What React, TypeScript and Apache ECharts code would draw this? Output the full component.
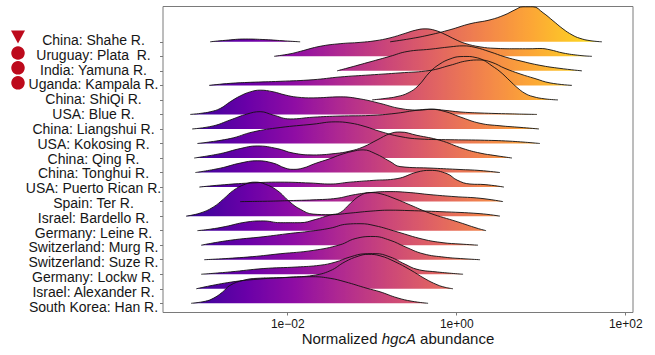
import React, { useEffect, useRef } from 'react';
import * as echarts from 'echarts';

// Rivers, top to bottom
const rivers = [
  'China: Shahe R.', 'Uruguay: Plata  R.', 'India: Yamuna R.', 'Uganda: Kampala R.',
  'China: ShiQi R.', 'USA: Blue R.', 'China: Liangshui R.', 'USA: Kokosing R.',
  'China: Qing R.', 'China: Tonghui R.', 'USA: Puerto Rican R.', 'Spain: Ter R.',
  'Israel: Bardello R.', 'Germany: Leine R.', 'Switzerland: Murg R.', 'Switzerland: Suze R.',
  'Germany: Lockw R.', 'Israel: Alexander R.', 'South Korea: Han R.',
];

// Marker shapes shown left of the first rivers
const markerShapes = ['triangle', 'circle', 'circle', 'circle'];

// x tick positions (log10 of abundance) and their labels
const xTicks = [-2, 0, 2];
const xTickLabels = ['1e\u221202', '1e+00', '1e+02'];

// Density ridges: [log10(normalized hgcA abundance), scaled density]; null = gap
const shahe = [[-2.918,0],[-2.740,0.10],[-2.503,0.19],[-2.267,0.15],[-2.031,0.06],[-1.853,0], null,
  [-0.789,0],[-0.552,0.21],[-0.316,0.48],[-0.079,0.83],[0.157,1.24],[0.394,1.51],[0.571,1.86],[0.689,2.20],[0.784,2.41],[0.902,2.41],[1.021,2.00],[1.139,1.45],[1.257,0.89],[1.364,0.48],[1.458,0.24],[1.577,0.08],[1.718,0]];
const uruguay = [[-2.161,0],[-1.972,0.17],[-1.853,0.34],[-1.617,0.69],[-1.380,0.87],[-1.144,0.96],[-0.966,1.07],[-0.789,1.27],[-0.611,1.58],[-0.493,1.79],[-0.375,1.89],[-0.257,1.79],[-0.138,1.51],[-0.020,1.17],[0.098,0.89],[0.276,0.65],[0.453,0.55],[0.689,0.52],[0.867,0.52],[0.985,0.54],[1.104,0.45],[1.257,0.23],[1.458,0.06],[1.600,0]];
const india = [[-1.416,0],[-1.262,0.24],[-1.025,0.62],[-0.789,1.00],[-0.588,1.33],[-0.316,1.49],[-0.079,1.65],[0.075,1.72],[0.216,1.62],[0.394,1.31],[0.571,0.96],[0.749,0.69],[0.985,0.38],[1.222,0.17],[1.482,0]];
const uganda = [[-2.930,0],[-2.681,0.14],[-2.445,0.21],[-2.090,0.28],[-1.700,0.39],[-1.380,0.58],[-1.025,0.72],[-0.671,0.86],[-0.316,1.03],[-0.079,1.38],[0.122,1.69],[0.276,1.75],[0.418,1.58],[0.571,1.17],[0.749,0.79],[0.926,0.47],[1.104,0.17],[1.364,0]];
const shiqi = [[-1.002,0],[-0.848,0.10],[-0.706,0.23],[-0.576,0.48],[-0.458,0.96],[-0.316,1.93],[-0.198,2.48],[-0.079,2.82],[0.039,2.98],[0.122,2.99],[0.216,2.93],[0.311,2.75],[0.418,2.34],[0.512,1.95],[0.630,1.31],[0.713,0.86],[0.808,0.45],[0.902,0.23],[1.044,0.07],[1.198,0]];
const blue = [[-3.154,0],[-3.036,0.07],[-2.918,0.18],[-2.799,0.41],[-2.681,0.87],[-2.563,1.27],[-2.445,1.55],[-2.326,1.67],[-2.173,1.56],[-2.031,1.34],[-1.889,1.19],[-1.700,1.14],[-1.380,1.21],[-1.144,1.07],[-0.907,0.76],[-0.671,0.41],[-0.434,0.30],[-0.292,0.36],[-0.138,0.28],[0.039,0.17],[0.276,0.10],[0.630,0.04],[0.950,0]];
const liangshui = [[-3.131,0],[-2.882,0.21],[-2.681,0.62],[-2.480,1.03],[-2.326,1.19],[-2.173,0.96],[-1.972,0.69],[-1.700,0.81],[-1.380,0.89],[-1.025,0.93],[-0.730,1.07],[-0.493,1.27],[-0.316,1.36],[-0.138,1.20],[0.039,0.83],[0.276,0.39],[0.512,0.22],[0.749,0.11],[0.973,0]];
const kokosing = [[-3.069,0],[-2.681,0.34],[-2.408,0.80],[-2.090,1.10],[-1.700,1.33],[-1.439,1.49],[-1.262,1.41],[-1.085,1.17],[-0.907,0.83],[-0.671,0.48],[-0.434,0.31],[-0.079,0.26],[0.276,0.23],[0.630,0.16],[0.985,0]];
const qing = [[-3.107,0],[-2.799,0.30],[-2.563,0.65],[-2.362,0.83],[-2.125,0.65],[-1.936,0.34],[-1.700,0.21],[-1.439,0.31],[-1.262,0.48],[-1.108,0.76],[-0.943,1.24],[-0.789,1.68],[-0.671,1.79],[-0.470,1.56],[-0.198,1.22],[0.075,0.65],[0.276,0.34],[0.453,0.17],[0.654,0]];
const tonghui = [[-3.093,0],[-2.799,0.30],[-2.563,0.65],[-2.362,0.81],[-2.173,0.65],[-2.031,0.31],[-1.936,0.22],[-1.818,0.31],[-1.676,0.62],[-1.498,0.96],[-1.380,1.22],[-1.238,1.45],[-1.108,1.56],[-0.966,1.31],[-0.789,0.76],[-0.671,0.41],[-0.280,0.30],[0.039,0.21],[0.276,0.14],[0.512,0]];
const puertoRican = [[-3.046,0],[-2.799,0.14],[-2.445,0.28],[-2.090,0.34],[-1.735,0.28],[-1.498,0.21],[-1.262,0.34],[-0.990,0.46],[-0.706,0.58],[-0.470,1.03],[-0.316,1.15],[-0.115,0.92],[0.004,0.48],[0.157,0.21],[0.335,0.17],[0.559,0]];
const ter = [[-2.563,0],[-2.208,0.03],[-1.972,0.07],[-1.700,0.12],[-1.416,0.23],[-1.227,0.46],[-1.025,0.62],[-0.789,0.69],[-0.552,0.62],[-0.316,0.48],[-0.020,0.34],[0.276,0.23],[0.548,0]];
const bardello = [[-3.202,0],[-3.036,0.21],[-2.882,0.62],[-2.762,1.17],[-2.643,1.77],[-2.503,2.20],[-2.386,2.34],[-2.267,2.20],[-2.125,1.77],[-1.972,0.96],[-1.853,0.48],[-1.700,0.14],[-1.498,0.10],[-1.262,0.21],[-1.025,0.34],[-0.789,0.41],[-0.552,0.38],[-0.198,0.31],[0.276,0.17],[0.512,0]];
const leine = [[-3.069,0],[-2.918,0.10],[-2.740,0.28],[-2.503,0.58],[-2.291,0.67],[-2.090,0.55],[-1.853,0.55],[-1.676,0.76],[-1.498,1.08],[-1.380,1.24],[-1.262,1.86],[-1.144,2.41],[-1.025,2.62],[-0.907,2.55],[-0.730,2.20],[-0.552,1.77],[-0.316,1.20],[0.004,0.62],[0.240,0.17],[0.347,0]];
const murg = [[-3.024,0],[-2.681,0.34],[-2.291,0.58],[-1.972,0.81],[-1.735,0.96],[-1.498,1.17],[-1.298,1.45],[-1.144,1.48],[-0.966,1.34],[-0.706,0.92],[-0.399,0.41],[-0.162,0.17],[0.039,0.08],[0.252,0]];
const suze = [[-2.987,0],[-2.480,0.18],[-2.090,0.41],[-1.700,0.64],[-1.380,1.03],[-1.203,1.45],[-0.990,1.60],[-0.789,1.34],[-0.611,0.89],[-0.399,0.41],[-0.138,0.17],[0.075,0.07],[0.276,0]];
const lockw = [[-3.024,0],[-2.681,0.16],[-2.291,0.39],[-1.889,0.50],[-1.617,0.62],[-1.439,0.83],[-1.262,1.19],[-1.085,1.41],[-0.966,1.42],[-0.789,1.19],[-0.611,0.69],[-0.470,0.34],[-0.257,0.17],[0.075,0]];
const alexander = [[-3.082,0],[-2.681,0.45],[-2.291,0.69],[-1.972,0.80],[-1.700,0.92],[-1.498,1.24],[-1.321,1.86],[-1.167,2.24],[-1.049,2.37],[-0.907,2.27],[-0.730,1.86],[-0.552,1.31],[-0.375,0.69],[-0.233,0.28],[-0.138,0.10],[-0.044,0]];
const han = [[-3.143,0],[-2.975,0.14],[-2.882,0.34],[-2.774,0.76],[-2.681,1.24],[-2.527,1.58],[-2.362,1.72],[-2.090,1.76],[-1.700,1.83],[-1.498,1.72],[-1.321,1.48],[-1.061,1.03],[-0.907,0.79],[-0.706,0.38],[-0.529,0.14],[-0.339,0]];

const curves: (number[] | null)[][] = [shahe, uruguay, india, uganda, shiqi, blue, liangshui, kokosing, qing, tonghui, puertoRican, ter, bardello, leine, murg, suze, lockw, alexander, han];

const plasma = ['#0d0887', '#41049d', '#6a00a8', '#8f0da4', '#b12a90', '#cc4778', '#e16462', '#f2844b', '#fca636', '#fcce25', '#f0f921'];
// fill colour scale limits (log10 abundance)
const FILL_MIN = -3.6, FILL_MAX = 2.0;

const X_MIN = -3.476, X_MAX = 2.086;
const Y_MIN = -0.633, Y_MAX = 20.43;
// the river-name column is laid out on its own slightly wider row spacing
const L_MIN = -0.39, L_MAX = 20.26;
const markerOffsets = [-3, -1.8, -1.8, -1.6];

export default function App() {
  const ref = useRef<HTMLDivElement>(null);
  useEffect(() => {
    const chart = echarts.init(ref.current!, null, { renderer: 'svg' });
    const n = rivers.length;
    const font = "'Liberation Sans', Arial, Helvetica, sans-serif";
    const textColor = '#161616';
    const series: any[] = [];
    curves.forEach((curve, i) => {
      const base = n - 1 - i;
      const segs: number[][][] = [];
      let seg: number[][] = [];
      curve.forEach((p) => {
        if (p === null) { if (seg.length) segs.push(seg); seg = []; }
        else seg.push([p[0], base + p[1]]);
      });
      if (seg.length) segs.push(seg);
      segs.forEach((s) => series.push({
        type: 'line', name: rivers[i], data: s, smooth: 0.45, symbol: 'none', showSymbol: false,
        lineStyle: { color: '#111', width: 0.9 },
        areaStyle: { origin: base, opacity: 1 },
        xAxisIndex: 0, yAxisIndex: 0, silent: true,
      }));
    });
    const ridgeIdx = series.map((_, i) => i);
    series.push({
      type: 'scatter', xAxisIndex: 1, yAxisIndex: 2, silent: true,
      itemStyle: { color: '#bd0a1c', opacity: 1 },
      data: markerShapes.map((s, i) => ({
        value: [0, n - 1 - i],
        symbol: s,
        symbolRotate: s === 'triangle' ? 180 : 0,
        symbolSize: s === 'triangle' ? [14, 13] : 13.5,
        symbolOffset: [0, markerOffsets[i]],
      })),
    });
    const rowVals = rivers.map((_, i) => n - 1 - i);
    chart.setOption({
      animation: false,
      grid: [
        { left: 163, right: 22, top: 6.5, bottom: 42.5, show: true, borderColor: '#7a7a7a', borderWidth: 1, backgroundColor: 'transparent' },
        { left: 8, width: 20, top: 6.5, bottom: 42.5 },
      ],
      visualMap: {
        type: 'continuous', show: false, dimension: 0, min: FILL_MIN, max: FILL_MAX,
        seriesIndex: ridgeIdx, inRange: { color: plasma },
      },
      xAxis: [
        {
          type: 'value', gridIndex: 0, min: X_MIN, max: X_MAX,
          splitLine: { show: false }, axisLine: { show: false, onZero: false },
          axisTick: { show: true, customValues: xTicks, length: 3, lineStyle: { color: '#7a7a7a' } },
          axisLabel: {
            customValues: xTicks, fontSize: 12, lineHeight: 12, color: textColor, fontFamily: font, margin: 5,
            formatter: (v: number) => xTickLabels[xTicks.indexOf(Math.round(v))] ?? '',
          },
          name: '{a|Normalized }{b|hgcA}{a| abundance}',
          nameLocation: 'middle', nameGap: 18, nameMoveOverlap: false,
          nameTextStyle: {
            fontSize: 15, lineHeight: 15, color: textColor, fontFamily: font,
            rich: {
              a: { fontSize: 15, lineHeight: 15, color: textColor, fontFamily: font },
              b: { fontSize: 15, lineHeight: 15, color: textColor, fontFamily: font, fontStyle: 'italic' },
            },
          },
        },
        { type: 'value', gridIndex: 1, min: -1, max: 1, show: false },
      ],
      yAxis: [
        {
          type: 'value', gridIndex: 0, min: Y_MIN, max: Y_MAX,
          splitLine: { show: false }, axisLine: { show: false, onZero: false },
          axisTick: { show: true, customValues: rowVals, length: 3, lineStyle: { color: '#7a7a7a' } },
          axisLabel: { show: false },
        },
        {
          type: 'value', gridIndex: 0, min: L_MIN, max: L_MAX, position: 'left',
          splitLine: { show: false }, axisLine: { show: false, onZero: false }, axisTick: { show: false },
          axisLabel: {
            customValues: rowVals, fontSize: 14, color: textColor, fontFamily: font,
            align: 'center', margin: 69.5,
            formatter: (v: number) => rivers[n - 1 - Math.round(v)] ?? '',
          },
        },
        { type: 'value', gridIndex: 1, min: L_MIN, max: L_MAX, show: false },
      ],
      series,
    });
    return () => chart.dispose();
  }, []);
  return <div ref={ref} style={{ position: 'fixed', left: 0, top: 0, width: 655, height: 355, background: '#fff' }} />;
}
